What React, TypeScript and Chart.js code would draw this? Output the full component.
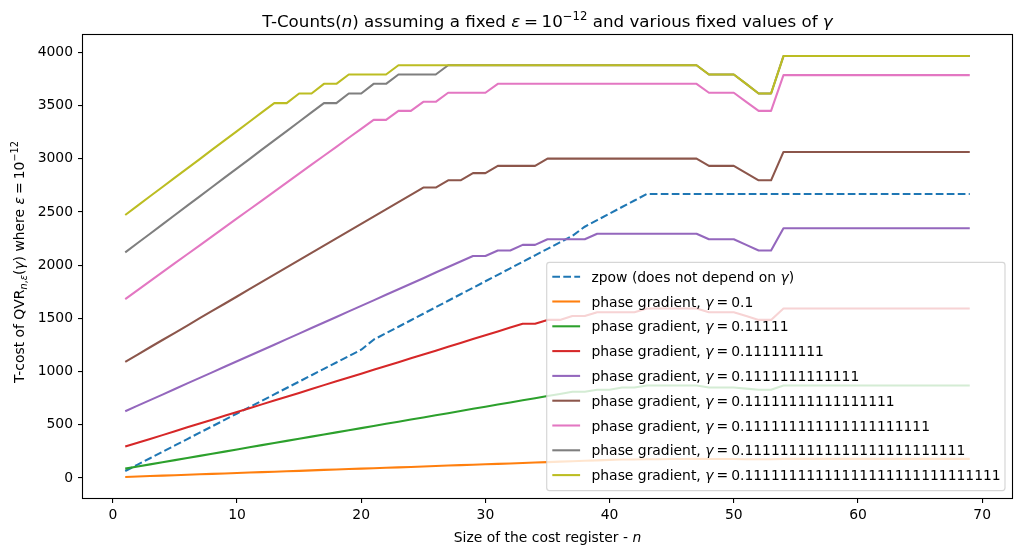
import React, { useEffect, useRef } from 'react';
import { Chart, registerables } from 'chart.js';

Chart.register(...registerables);

const nValues = [1, 2, 3, 4, 5, 6, 7, 8, 9, 10, 11, 12, 13, 14, 15, 16, 17, 18, 19, 20, 21, 22, 23, 24, 25, 26, 27, 28, 29, 30, 31, 32, 33, 34, 35, 36, 37, 38, 39, 40, 41, 42, 43, 44, 45, 46, 47, 48, 49, 50, 51, 52, 53, 54, 55, 56, 57, 58, 59, 60, 61, 62, 63, 64, 65, 66, 67, 68, 69];

const xTicks = [0, 10, 20, 30, 40, 50, 60, 70];
const yTicks = [0, 500, 1000, 1500, 2000, 2500, 3000, 3500, 4000];

const zpow = [66, 126, 186, 246, 306, 366, 426, 486, 546, 606, 666, 726, 786, 846, 906, 966, 1026, 1086, 1146, 1206, 1300, 1361, 1422, 1483, 1544, 1605, 1666, 1727, 1788, 1849, 1910, 1971, 2032, 2093, 2154, 2215, 2276, 2362, 2424, 2485, 2547, 2608, 2670, 2670, 2670, 2670, 2670, 2670, 2670, 2670, 2670, 2670, 2670, 2670, 2670, 2670, 2670, 2670, 2670, 2670, 2670, 2670, 2670, 2670, 2670, 2670, 2670, 2670, 2670];

const pg1 = [10, 14, 18, 22, 26, 31, 35, 39, 43, 47, 51, 55, 59, 63, 67, 72, 76, 80, 84, 88, 92, 96, 100, 104, 108, 113, 117, 121, 125, 129, 133, 137, 141, 145, 149, 154, 158, 162, 166, 170, 174, 174, 176, 176, 178, 178, 180, 178, 178, 178, 177, 176, 176, 180, 180, 180, 180, 180, 180, 180, 180, 180, 180, 180, 180, 180, 180, 180, 180];

const pg5 = [88, 108, 128, 148, 168, 188, 208, 228, 248, 268, 289, 309, 329, 349, 369, 389, 409, 429, 449, 469, 489, 509, 529, 549, 569, 589, 609, 629, 650, 670, 690, 710, 730, 750, 770, 790, 810, 810, 830, 830, 850, 850, 870, 870, 870, 870, 870, 850, 850, 850, 840, 830, 830, 870, 870, 870, 870, 870, 870, 870, 870, 870, 870, 870, 870, 870, 870, 870, 870];

const pg9 = [295, 331, 367, 403, 439, 476, 512, 548, 584, 620, 656, 692, 728, 764, 800, 836, 873, 909, 945, 981, 1017, 1053, 1089, 1125, 1161, 1197, 1233, 1270, 1306, 1342, 1378, 1414, 1450, 1450, 1486, 1486, 1522, 1522, 1558, 1558, 1558, 1558, 1594, 1594, 1594, 1594, 1594, 1558, 1558, 1558, 1522, 1486, 1486, 1594, 1594, 1594, 1594, 1594, 1594, 1594, 1594, 1594, 1594, 1594, 1594, 1594, 1594, 1594, 1594];

const pg13 = [628, 680, 732, 784, 836, 889, 941, 993, 1045, 1097, 1149, 1201, 1253, 1305, 1357, 1410, 1462, 1514, 1566, 1618, 1670, 1722, 1774, 1826, 1878, 1931, 1983, 2035, 2087, 2087, 2139, 2139, 2191, 2191, 2244, 2244, 2244, 2244, 2296, 2296, 2296, 2296, 2296, 2296, 2296, 2296, 2296, 2244, 2244, 2244, 2191, 2139, 2139, 2347, 2347, 2347, 2347, 2347, 2347, 2347, 2347, 2347, 2347, 2347, 2347, 2347, 2347, 2347, 2347];

const pg17 = [1092, 1160, 1229, 1297, 1365, 1433, 1502, 1570, 1638, 1706, 1775, 1843, 1911, 1979, 2048, 2116, 2184, 2252, 2321, 2389, 2457, 2525, 2594, 2662, 2730, 2730, 2798, 2798, 2866, 2866, 2934, 2934, 2934, 2934, 3002, 3002, 3002, 3002, 3002, 3002, 3002, 3002, 3002, 3002, 3002, 3002, 3002, 2934, 2934, 2934, 2866, 2798, 2798, 3065, 3065, 3065, 3065, 3065, 3065, 3065, 3065, 3065, 3065, 3065, 3065, 3065, 3065, 3065, 3065];

const pg21 = [1682, 1766, 1850, 1935, 2019, 2103, 2187, 2271, 2356, 2440, 2524, 2608, 2692, 2777, 2861, 2945, 3029, 3113, 3198, 3282, 3366, 3366, 3451, 3451, 3536, 3536, 3621, 3621, 3621, 3621, 3705, 3705, 3705, 3705, 3705, 3705, 3705, 3705, 3705, 3705, 3705, 3705, 3705, 3705, 3705, 3705, 3705, 3621, 3621, 3621, 3536, 3451, 3451, 3787, 3787, 3787, 3787, 3787, 3787, 3787, 3787, 3787, 3787, 3787, 3787, 3787, 3787, 3787, 3787];

const pg25 = [2121, 2209, 2296, 2384, 2472, 2560, 2647, 2735, 2823, 2910, 2998, 3086, 3173, 3261, 3349, 3436, 3524, 3524, 3614, 3614, 3705, 3705, 3793, 3793, 3793, 3793, 3880, 3880, 3880, 3880, 3880, 3880, 3880, 3880, 3880, 3880, 3880, 3880, 3880, 3880, 3880, 3880, 3880, 3880, 3880, 3880, 3880, 3793, 3793, 3793, 3705, 3614, 3614, 3966, 3966, 3966, 3966, 3966, 3966, 3966, 3966, 3966, 3966, 3966, 3966, 3966, 3966, 3966, 3966];

const pg29 = [2472, 2560, 2648, 2735, 2823, 2911, 2998, 3086, 3174, 3261, 3349, 3437, 3524, 3524, 3614, 3614, 3705, 3705, 3793, 3793, 3793, 3793, 3880, 3880, 3880, 3880, 3880, 3880, 3880, 3880, 3880, 3880, 3880, 3880, 3880, 3880, 3880, 3880, 3880, 3880, 3880, 3880, 3880, 3880, 3880, 3880, 3880, 3793, 3793, 3793, 3705, 3614, 3614, 3966, 3966, 3966, 3966, 3966, 3966, 3966, 3966, 3966, 3966, 3966, 3966, 3966, 3966, 3966, 3966];

const seriesValues = [zpow, pg1, pg5, pg9, pg13, pg17, pg21, pg25, pg29];
const gammaLabels = ['0.1', '0.11111', '0.111111111', '0.1111111111111', '0.11111111111111111', '0.111111111111111111111', '0.1111111111111111111111111', '0.11111111111111111111111111111'];
const colors = ['#1f77b4', '#ff7f0e', '#2ca02c', '#d62728', '#9467bd', '#8c564b', '#e377c2', '#7f7f7f', '#bcbd22'];

const FONT = '"DejaVu Sans"';
const DASH = [7.7, 3.3];

type Seg = { t: string; it?: boolean; s?: number; dy?: number; gap?: number };

function segFont(seg: Seg, size: number) {
  return `${seg.it ? 'italic ' : ''}${(seg.s ?? 1) * size}px ${FONT}`;
}
function measureSegs(ctx: CanvasRenderingContext2D, segs: Seg[], size: number) {
  let w = 0;
  for (const seg of segs) {
    ctx.font = segFont(seg, size);
    w += (seg.gap ?? 0) * size + ctx.measureText(seg.t).width;
  }
  return w;
}
function drawSegs(ctx: CanvasRenderingContext2D, segs: Seg[], x: number, y: number, size: number) {
  let cx = x;
  for (const seg of segs) {
    cx += (seg.gap ?? 0) * size;
    ctx.font = segFont(seg, size);
    ctx.fillText(seg.t, cx, y + (seg.dy ?? 0) * size);
    cx += ctx.measureText(seg.t).width;
  }
}

const titleSegs: Seg[] = [
  { t: 'T-Counts(' }, { t: 'n', it: true }, { t: ') assuming a fixed ' }, { t: 'ε', it: true },
  { t: '=', gap: 0.22 }, { t: '10', gap: 0.22 }, { t: '−12', s: 0.7, dy: -0.42 },
  { t: ' and various fixed values of ' }, { t: 'γ', it: true },
];
const yLabelSegs: Seg[] = [
  { t: 'T-cost of QVR' }, { t: 'n', it: true, s: 0.7, dy: 0.22 }, { t: ',', s: 0.7, dy: 0.22 }, { t: 'ε', it: true, s: 0.7, dy: 0.22 },
  { t: '(' }, { t: 'γ', it: true }, { t: ') where ' }, { t: 'ε', it: true },
  { t: '=', gap: 0.22 }, { t: '10', gap: 0.22 }, { t: '−12', s: 0.7, dy: -0.42 },
];
const xLabelSegs: Seg[] = [{ t: 'Size of the cost register - ' }, { t: 'n', it: true }];

function legendSegs(i: number): Seg[] {
  if (i === 0) return [{ t: 'zpow (does not depend on ' }, { t: 'γ', it: true }, { t: ')' }];
  return [{ t: 'phase gradient, ' }, { t: 'γ', it: true }, { t: '=', gap: 0.22 }, { t: gammaLabels[i - 1], gap: 0.22 }];
}

const decorPlugin = {
  id: 'decor',
  afterDatasetsDraw(chart: any) {
    const ctx: CanvasRenderingContext2D = chart.ctx;
    const a = chart.chartArea;
    ctx.save();
    // frame
    ctx.strokeStyle = '#000';
    ctx.lineWidth = 1.1;
    ctx.setLineDash([]);
    ctx.strokeRect(a.left - 0.5, a.top - 0.5, a.right - a.left + 1, a.bottom - a.top + 1);

    // legend
    const lx = 546.7, ly = 262.3, lr = 1005, lb = 490.6, r = 2.8;
    ctx.beginPath();
    ctx.moveTo(lx + r, ly);
    ctx.lineTo(lr - r, ly);
    ctx.quadraticCurveTo(lr, ly, lr, ly + r);
    ctx.lineTo(lr, lb - r);
    ctx.quadraticCurveTo(lr, lb, lr - r, lb);
    ctx.lineTo(lx + r, lb);
    ctx.quadraticCurveTo(lx, lb, lx, lb - r);
    ctx.lineTo(lx, ly + r);
    ctx.quadraticCurveTo(lx, ly, lx + r, ly);
    ctx.closePath();
    ctx.fillStyle = 'rgba(255,255,255,0.8)';
    ctx.fill();
    ctx.strokeStyle = 'rgba(204,204,204,0.8)';
    ctx.lineWidth = 1.2;
    ctx.stroke();

    const fs = 13.9;
    for (let i = 0; i < colors.length; i++) {
      const cy = 276.7 + 24.8 * i;
      ctx.beginPath();
      ctx.strokeStyle = colors[i];
      ctx.lineWidth = 2.08;
      ctx.setLineDash(i === 0 ? DASH : []);
      ctx.moveTo(552.3, cy);
      ctx.lineTo(580.1, cy);
      ctx.stroke();
      ctx.setLineDash([]);
      ctx.fillStyle = '#000';
      ctx.textBaseline = 'alphabetic';
      ctx.textAlign = 'left';
      drawSegs(ctx, legendSegs(i), 591.5, cy + 5, fs);
    }
    ctx.restore();
  },
  afterDraw(chart: any) {
    const ctx: CanvasRenderingContext2D = chart.ctx;
    const a = chart.chartArea;
    const cx = (a.left + a.right) / 2;
    ctx.save();
    ctx.fillStyle = '#000';
    ctx.textAlign = 'left';
    ctx.textBaseline = 'alphabetic';
    // title
    const tw = measureSegs(ctx, titleSegs, 16.7);
    drawSegs(ctx, titleSegs, cx - tw / 2, 27, 16.7);
    // x label
    const xw = measureSegs(ctx, xLabelSegs, 13.9);
    drawSegs(ctx, xLabelSegs, cx - xw / 2, 542, 13.9);
    // y label
    const yw = measureSegs(ctx, yLabelSegs, 13.9);
    ctx.translate(23.5, 262);
    ctx.rotate(-Math.PI / 2);
    drawSegs(ctx, yLabelSegs, -yw / 2, 0, 13.9);
    ctx.restore();
  },
};

export default function App() {
  const ref = useRef<HTMLCanvasElement>(null);
  useEffect(() => {
    if (!ref.current) return;
    const datasets = seriesValues.map((vals, i) => ({
      label: i === 0 ? 'zpow' : 'phase gradient ' + gammaLabels[i - 1],
      data: nValues.map((n, k) => ({ x: n, y: vals[k] })),
      borderColor: colors[i],
      backgroundColor: colors[i],
      borderWidth: 2.08,
      borderDash: i === 0 ? DASH : [],
      borderJoinStyle: 'round' as const,
      pointRadius: 0,
      tension: 0,
      fill: false,
      order: colors.length - 1 - i,
    }));
    const tickFont = { family: FONT, size: 13.9 };
    const chart = new Chart(ref.current, {
      type: 'line',
      data: { datasets },
      options: {
        responsive: false,
        animation: false,
        devicePixelRatio: 1,
        layout: { padding: { left: 0, right: 10, top: 35, bottom: 0 } },
        plugins: { legend: { display: false }, title: { display: false }, tooltip: { enabled: false } },
        scales: {
          x: {
            type: 'linear',
            min: -2.4,
            max: 72.4,
            afterBuildTicks: (s: any) => { s.ticks = xTicks.map((v) => ({ value: v })); },
            afterFit: (s: any) => { s.height = 57; },
            grid: { drawOnChartArea: false, color: '#000', tickLength: 5, lineWidth: 1.1 },
            border: { display: false },
            ticks: { font: tickFont, color: '#000', padding: 4, maxRotation: 0, autoSkip: false, callback: (v: any) => String(v) },
          },
          y: {
            type: 'linear',
            min: -188,
            max: 4164,
            afterBuildTicks: (s: any) => { s.ticks = yTicks.map((v) => ({ value: v })); },
            afterFit: (s: any) => { s.width = 83; },
            grid: { drawOnChartArea: false, color: '#000', tickLength: 5, lineWidth: 1.1 },
            border: { display: false },
            ticks: { font: tickFont, color: '#000', padding: 5, autoSkip: false, callback: (v: any) => String(v) },
          },
        },
      } as any,
      plugins: [decorPlugin],
    });
    return () => chart.destroy();
  }, []);
  return (
    <div style={{ position: 'absolute', left: 0, top: 0, width: 1022, height: 555, background: '#fff' }}>
      <canvas ref={ref} width={1022} height={555} style={{ display: 'block' }} />
    </div>
  );
}
